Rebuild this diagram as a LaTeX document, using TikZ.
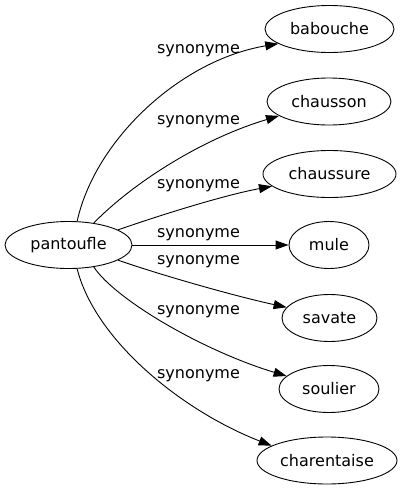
\documentclass[tikz,border=0pt]{standalone}
\usepackage{fontspec}
\setmainfont{DejaVu Sans}
\usepackage{tikz}
\usetikzlibrary{shapes.geometric, arrows.meta}

\begin{document}
\begin{tikzpicture}[x=1pt, y=-1pt, font=\fontsize{16}{19}\selectfont,
    word/.style={ellipse, draw, line width=0.9pt, inner sep=0pt, minimum height=47pt},
    rel/.style={line width=0.9pt, -{Triangle[length=13pt, width=9pt]}},
    syn/.style={inner sep=0pt}]
  % picture is 407 x 491, y runs downwards like the pixels
  \useasboundingbox (0,0) rectangle (407,491);
  \node[word, minimum width=127pt] (pan) at (68.5,245) {pantoufle};
  \node[word, minimum width=129pt] (bab) at (329.5,29) {babouche};
  \node[word, minimum width=124pt] (chn) at (329,101.5) {chausson};
  \node[word, minimum width=133pt] (chr) at (329.5,174) {chaussure};
  \node[word, minimum width=80pt] (mul) at (329,245) {mule};
  \node[word, minimum width=95pt] (sav) at (329.5,318) {savate};
  \node[word, minimum width=100pt] (sou) at (329,389) {soulier};
  \node[word, minimum width=140pt] (cha) at (327,460.5) {charentaise};
  % edges, from the top one down
  \draw[rel] (pan.70) .. controls +(18,-81.5) and +(-98,16.5) .. (bab.196);
  \draw[rel] (pan.41) .. controls +(37,-38) and +(-80,24) .. (chn.196);
  \draw[rel] (pan.17) .. controls +(43,-15) and +(-48,9) .. (chr.192);
  \draw[rel] (pan.0) -- (mul.180);
  \draw[rel] (pan.-17) .. controls +(43,15) and +(-51,-11) .. (sav.166);
  \draw[rel] (pan.-41) .. controls +(22,33) and +(-83,-25) .. (sou.163);
  \draw[rel] (pan.-70) .. controls +(18,71.5) and +(-90,-35) .. (cha.165);
  \node[syn] (s1) at (198.5,51) {synonyme};
  \node[syn] (s2) at (198.5,122) {synonyme};
  \node[syn] (s3) at (198.5,186) {synonyme};
  \node[syn] (s4) at (198.5,235) {synonyme};
  \node[syn] (s5) at (198.5,262) {synonyme};
  \node[syn] (s6) at (198.5,312) {synonyme};
  \node[syn] (s7) at (198.5,376) {synonyme};
\end{tikzpicture}
\end{document}
